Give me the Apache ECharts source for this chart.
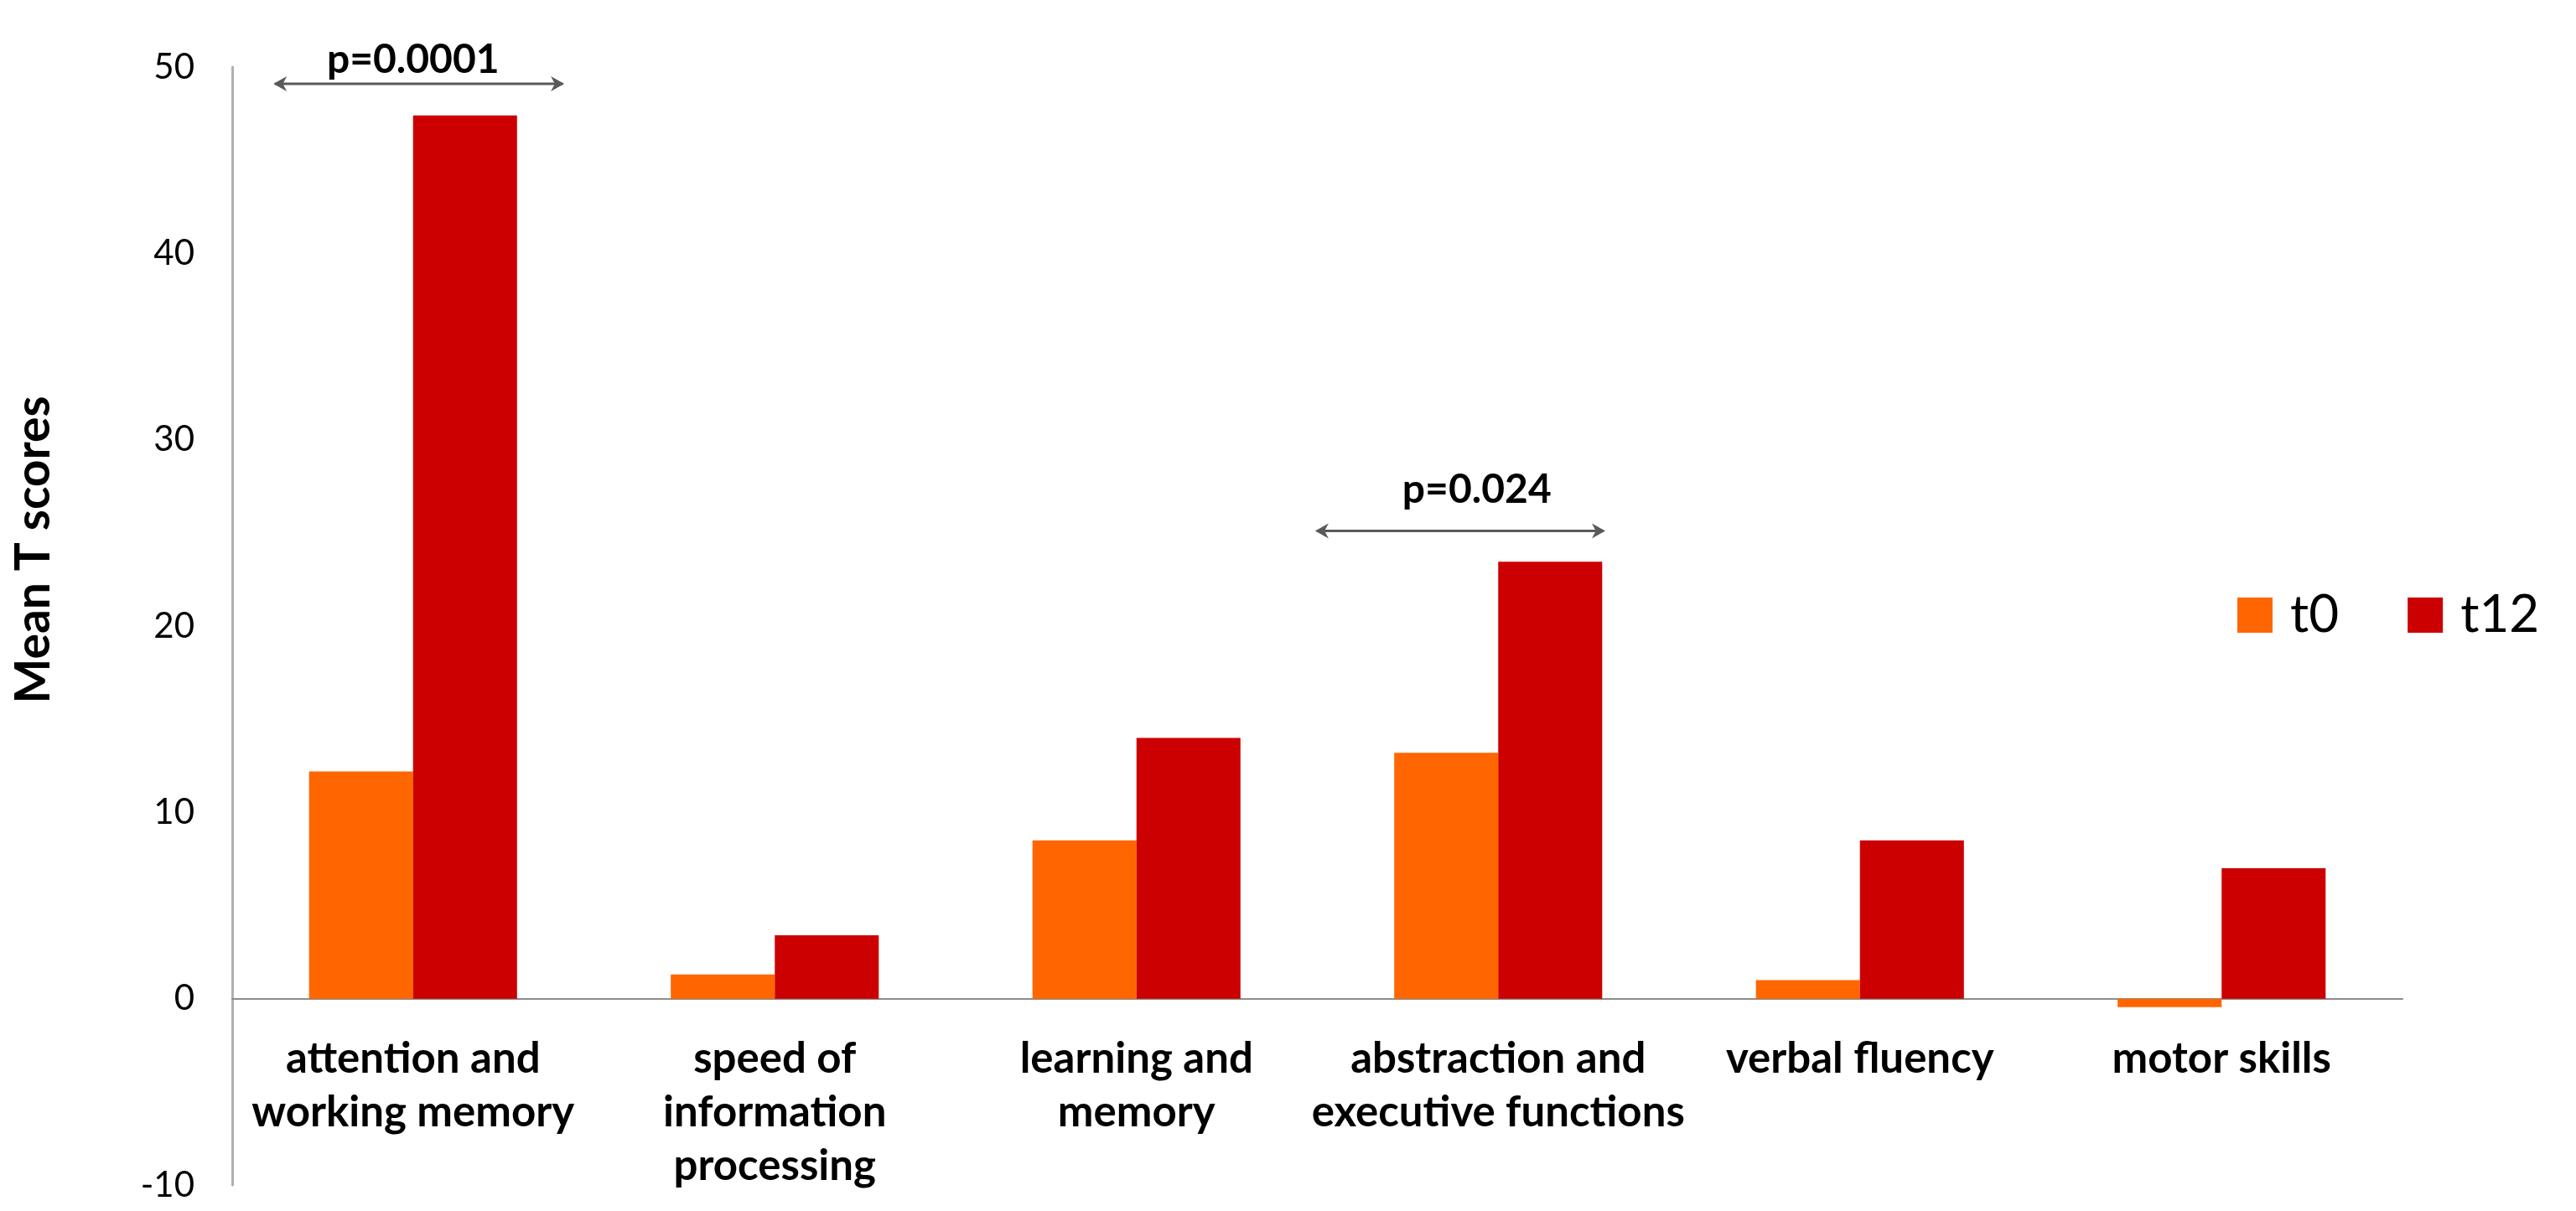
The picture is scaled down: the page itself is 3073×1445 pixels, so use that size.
<!DOCTYPE html>
<html>
<head>
<meta charset="utf-8">
<script src="https://cdn.jsdelivr.net/npm/echarts@6/dist/echarts.min.js"></script>
<style>
html,body{margin:0;padding:0;background:#fff;}
#chart{width:3073px;height:1445px;}
</style>
</head>
<body>
<div id="chart"></div>
<script>
const categories = [
  "attention and\nworking memory",
  "speed of\ninformation\nprocessing",
  "learning and\nmemory",
  "abstraction and\nexecutive functions",
  "verbal fluency",
  "motor skills"
];
const seriesNames = ["t0", "t12"];
const t0Values = [12.2, 1.3, 8.5, 13.2, 1.0, -0.45];
const t12Values = [47.4, 3.4, 14.0, 23.45, 8.5, 7.0];
const yTicks = { min: -10, max: 50, interval: 10 };
// significance annotations: category index, arrow level, label level
const annotations = [
  { cat: 0, level: 49.1, labelLevel: 50.4, from: -0.386, to: 0.418, textShift: 0.0, text: "p=0.0001" },
  { cat: 3, level: 25.1, labelLevel: 27.3, from: -0.506, to: 0.296, textShift: -0.059, text: "p=0.024" }
];

const FONT = "Lato";
const LABEL_GAP = 40;
const chart = echarts.init(document.getElementById('chart'));
const option = {
  backgroundColor: '#ffffff',
  animation: false,
  grid: { left: 277, right: 207, top: 80, bottom: 31, containLabel: false, outerBoundsMode: 'none' },
  legend: {
    data: seriesNames,
    left: 2664,
    top: 698,
    itemWidth: 42,
    itemHeight: 42,
    itemGap: 82,
    icon: 'rect',
    textStyle: { fontFamily: FONT, fontSize: 62, color: '#000', padding: [0, 0, 0, 16] }
  },
  xAxis: {
    type: 'category',
    data: categories,
    axisLine: { show: true, onZero: true, lineStyle: { color: '#8c8c8c', width: 2 } },
    axisTick: { show: false },
    axisLabel: {
      interval: 0,
      margin: LABEL_GAP,
      fontFamily: FONT,
      fontWeight: 'bold',
      fontSize: 51,
      lineHeight: 64,
      color: '#000'
    },
    splitLine: { show: false }
  },
  yAxis: {
    type: 'value',
    min: yTicks.min,
    max: yTicks.max,
    interval: yTicks.interval,
    name: 'Mean T scores',
    nameLocation: 'middle',
    nameRotate: 90,
    nameGap: 208,
    nameTextStyle: { fontFamily: FONT, fontWeight: 'bold', fontSize: 57, color: '#000', padding: [0, 0, 0, 182] },
    axisLine: { show: true, lineStyle: { color: '#b0b0b0', width: 3 } },
    axisTick: { show: false },
    axisLabel: { margin: 45, fontFamily: FONT, fontSize: 42, color: '#000' },
    splitLine: { show: false }
  },
  series: [
    { name: seriesNames[0], type: 'bar', data: t0Values, barGap: '0%', barCategoryGap: '42.5%',
      itemStyle: { color: '#FF6600' } },
    { name: seriesNames[1], type: 'bar', data: t12Values, barGap: '0%', barCategoryGap: '42.5%',
      itemStyle: { color: '#CC0000' } }
  ]
};
chart.setOption(option);

// category labels sit just under the zero line (where the x axis line is drawn)
const zeroPx = chart.convertToPixel({ yAxisIndex: 0 }, 0);
const bottomPx = chart.convertToPixel({ yAxisIndex: 0 }, yTicks.min);
chart.setOption({ xAxis: { axisLabel: { margin: LABEL_GAP - (bottomPx - zeroPx) } } });

function drawAnnotations() {
  const p0 = chart.convertToPixel({ xAxisIndex: 0 }, 0);
  const p1 = chart.convertToPixel({ xAxisIndex: 0 }, 1);
  const band = p1 - p0;
  const elements = [];
  const col = '#595959';
  annotations.forEach(a => {
    const cx = chart.convertToPixel({ xAxisIndex: 0 }, a.cat);
    const y = chart.convertToPixel({ yAxisIndex: 0 }, a.level);
    const ty = chart.convertToPixel({ yAxisIndex: 0 }, a.labelLevel);
    const x0 = cx + a.from * band;
    const x1 = cx + a.to * band;
    const hl = 16, hw = 9;
    elements.push({ type: 'line', shape: { x1: x0 + 2, y1: y, x2: x1 - 2, y2: y },
      style: { stroke: col, lineWidth: 3 } });
    elements.push({ type: 'polygon', shape: { points: [[x0, y], [x0 + hl, y - hw], [x0 + hl * 0.7, y], [x0 + hl, y + hw]] },
      style: { fill: col } });
    elements.push({ type: 'polygon', shape: { points: [[x1, y], [x1 - hl, y - hw], [x1 - hl * 0.7, y], [x1 - hl, y + hw]] },
      style: { fill: col } });
    elements.push({ type: 'text', x: cx + a.textShift * band, y: ty,
      style: { text: a.text, fontFamily: FONT, fontWeight: 'bold', fontSize: 48, fill: '#000',
        align: 'center', verticalAlign: 'middle' } });
  });
  chart.setOption({ graphic: { elements: elements } });
}
drawAnnotations();
</script>
</body>
</html>
